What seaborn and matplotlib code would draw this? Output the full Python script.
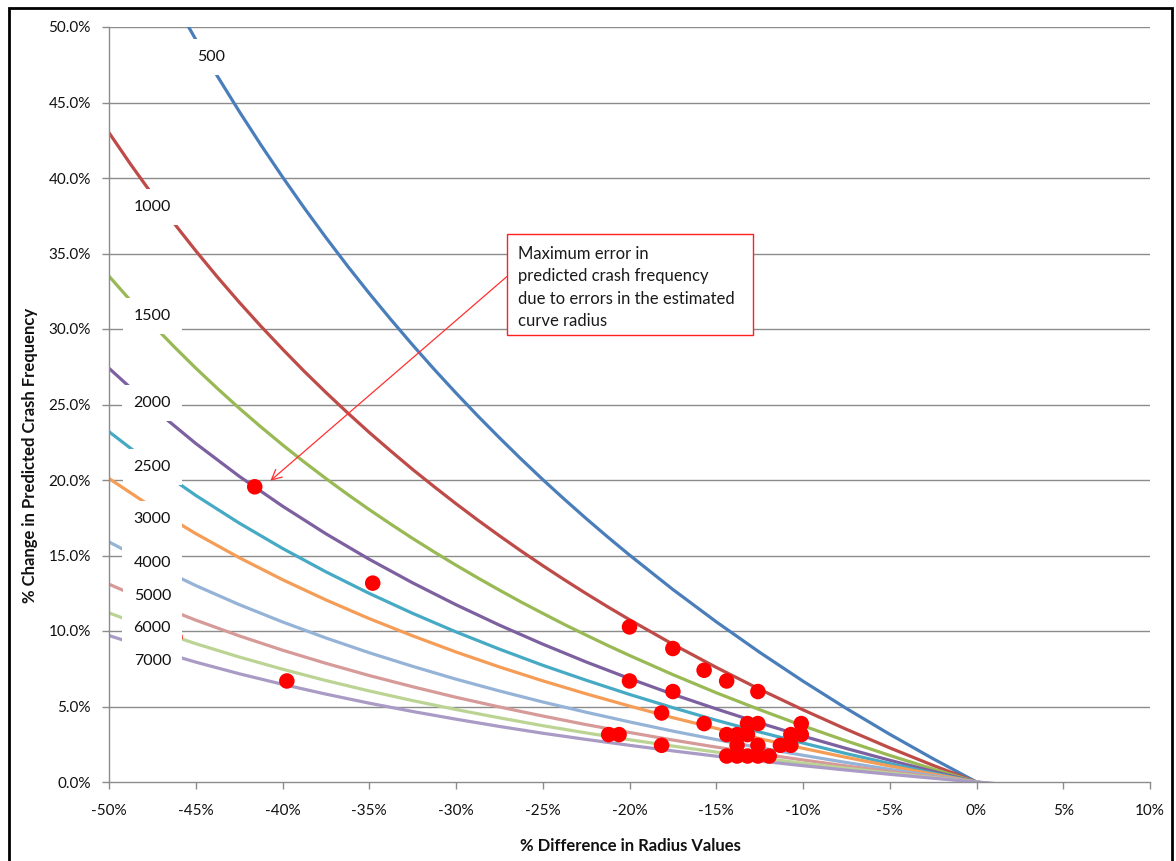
import numpy as np
import pandas as pd
import matplotlib
matplotlib.use("Agg")
import matplotlib.pyplot as plt
from matplotlib.patches import Rectangle
import seaborn as sns

# % difference in radius values (x positions of the curve readings)
x_pct = [-50, -47.5, -45, -42.5, -40, -37.5, -35, -32.5, -30, -27.5, -25,
         -22.5, -20, -17.5, -15, -12.5, -10, -7.5, -5, -2.5, 0, 2]
# denser readings for the three steepest curves
x_fine = [-50, -48.75, -47.5, -46.25, -45, -43.75, -42.5, -41.25, -40, -38.75,
          -37.5, -36.25, -35, -33.75, -32.5, -31.25, -30, -28.75, -27.5,
          -26.25, -25, -23.75, -22.5, -21.25,
          -20, -17.5, -15, -12.5, -10, -7.5, -5, -2.5, 0, 2]

# % change in predicted crash frequency for each curve radius
r500 = [60.10, 57.17, 54.38, 51.71, 49.17, 46.74, 44.42, 42.20, 40.07, 38.02,
        36.06, 34.17, 32.36, 30.62, 28.94, 27.32, 25.76, 24.25, 22.80,
        21.39, 20.03, 18.72, 17.45, 16.22,
        15.03, 12.75, 10.61, 8.59, 6.68, 4.87, 3.16, 1.54, 0.0, -1.18]
r1000 = [43.00, 40.90, 38.90, 37.00, 35.18, 33.44, 31.78, 30.19, 28.67, 27.20,
         25.80, 24.45, 23.15, 21.91, 20.70, 19.55, 18.43, 17.35, 16.31,
         15.30, 14.33, 13.39, 12.48, 11.60,
         10.75, 9.12, 7.59, 6.14, 4.78, 3.49, 2.26, 1.10, 0.0, -0.84]
r1500 = [33.50, 31.87, 30.31, 28.83, 27.41, 26.06, 24.76, 23.52, 22.33, 21.19,
         20.10, 19.05, 18.04, 17.07, 16.13, 15.23, 14.36, 13.52, 12.71,
         11.92, 11.17, 10.43, 9.73, 9.04,
         8.38, 7.11, 5.91, 4.79, 3.72, 2.72, 1.76, 0.86, 0.0, -0.66]
r2000 = [27.40, 24.79, 22.42, 20.25, 18.27, 16.44, 14.75, 13.19, 11.74, 10.39,
         9.13, 7.95, 6.85, 5.81, 4.84, 3.91, 3.04, 2.22, 1.44, 0.70, 0.0, -0.54]
r2500 = [23.20, 20.99, 18.98, 17.15, 15.47, 13.92, 12.49, 11.17, 9.94, 8.80,
         7.73, 6.74, 5.80, 4.92, 4.09, 3.31, 2.58, 1.88, 1.22, 0.59, 0.0, -0.45]
r3000 = [20.10, 18.19, 16.45, 14.86, 13.40, 12.06, 10.82, 9.68, 8.61, 7.62,
         6.70, 5.84, 5.03, 4.26, 3.55, 2.87, 2.23, 1.63, 1.06, 0.52, 0.0, -0.39]
r4000 = [15.90, 14.39, 13.01, 11.75, 10.60, 9.54, 8.56, 7.66, 6.81, 6.03,
         5.30, 4.62, 3.98, 3.37, 2.81, 2.27, 1.77, 1.29, 0.84, 0.41, 0.0, -0.31]
r5000 = [13.10, 11.85, 10.72, 9.68, 8.73, 7.86, 7.05, 6.31, 5.61, 4.97,
         4.37, 3.80, 3.28, 2.78, 2.31, 1.87, 1.46, 1.06, 0.69, 0.34, 0.0, -0.26]
r6000 = [11.20, 10.13, 9.16, 8.28, 7.47, 6.72, 6.03, 5.39, 4.80, 4.25,
         3.73, 3.25, 2.80, 2.38, 1.98, 1.60, 1.24, 0.91, 0.59, 0.29, 0.0, -0.22]
r7000 = [9.70, 8.78, 7.94, 7.17, 6.47, 5.82, 5.22, 4.67, 4.16, 3.68,
         3.23, 2.82, 2.43, 2.06, 1.71, 1.39, 1.08, 0.79, 0.51, 0.25, 0.0, -0.19]

radii = ["500", "1000", "1500", "2000", "2500", "3000", "4000", "5000", "6000", "7000"]
curves = [r500, r1000, r1500, r2000, r2500, r3000, r4000, r5000, r6000, r7000]
curve_x = [x_fine, x_fine, x_fine] + [x_pct] * 7

# curve label anchor positions (x %, y %)
label_x = [-44.1, -47.5, -47.5, -47.5, -47.5, -47.5, -47.5, -47.5, -47.5, -47.5]
label_y = [48.0, 38.1, 30.85, 25.1, 20.85, 17.4, 14.5, 12.3, 10.2, 8.0]

# observed sites (x %, y %)
site_x = [-41.6, -34.8, -39.75, -46.2, -20.0, -17.5, -15.7, -14.4, -12.6,
          -20.0, -17.5, -18.15, -15.7, -21.2, -20.6, -18.15, -14.4, -13.8,
          -13.2, -12.6, -13.2, -13.8, -12.6, -14.4, -13.8, -13.2, -12.6,
          -11.95, -11.3, -10.7, -10.7, -10.1, -10.1]
site_y = [19.55, 13.17, 6.69, 9.6, 10.27, 8.84, 7.40, 6.69, 5.99,
          6.69, 5.99, 4.57, 3.87, 3.14, 3.14, 2.43, 3.14, 3.14,
          3.87, 3.87, 3.14, 2.43, 2.43, 1.72, 1.72, 1.72, 1.72,
          1.72, 2.43, 2.43, 3.14, 3.14, 3.87]

x_ticks = [-50, -45, -40, -35, -30, -25, -20, -15, -10, -5, 0, 5, 10]
y_ticks = [0, 5, 10, 15, 20, 25, 30, 35, 40, 45, 50]

colors = ["#4A7EBB", "#BE4B48", "#98B954", "#7D60A0", "#46AAC5",
          "#F59D56", "#95B3D7", "#D69A98", "#BBD494", "#A99BC6"]

df = pd.concat(
    [pd.DataFrame({"diff": xs, "change": ys, "radius": name})
     for name, xs, ys in zip(radii, curve_x, curves)],
    ignore_index=True,
)
sites = pd.DataFrame({"diff": site_x, "change": site_y})

sns.set_style("white")
plt.rcParams["font.family"] = ["Lato", "DejaVu Sans"]

fig = plt.figure(figsize=(11.76, 8.61), dpi=100)
W, H = 1176, 861
ax = fig.add_axes([109 / W, 1 - 782 / H, (1150 - 109) / W, (782 - 27) / H])

grid_c = "#8C8C8C"
for yv in y_ticks[1:]:
    ax.axhline(yv, color=grid_c, lw=1.0, zorder=0.5)

sns.lineplot(data=df, x="diff", y="change", hue="radius", hue_order=radii,
             palette=colors, sort=False, lw=2.3, legend=False, ax=ax, zorder=2)
for ln in ax.get_lines():
    ln.set_solid_joinstyle("round")

sns.scatterplot(data=sites, x="diff", y="change", color="#FF0000", s=125,
                edgecolor="none", ax=ax, zorder=3)

for name, lx, ly in zip(radii, label_x, label_y):
    ax.text(lx, ly, name, ha="center", va="center", fontsize=11.5, color="#111111",
            zorder=5,
            bbox=dict(boxstyle="square,pad=0.7", facecolor="white", edgecolor="none"))

# callout box with arrow
ax.add_patch(Rectangle((-27.05, 29.6), 14.15, 6.7, facecolor="white",
                       edgecolor="#FF2020", lw=1.0, zorder=6))
ax.text(-26.45, 35.5,
        "Maximum error in\npredicted crash frequency\ndue to errors in the estimated\ncurve radius",
        ha="left", va="top", fontsize=12, color="#1A1A1A", linespacing=1.5, zorder=7)
ax.annotate("", xy=(-40.7, 19.95), xytext=(-27.07, 33.47),
            arrowprops=dict(arrowstyle="->", color="#FF3030", lw=0.9,
                            shrinkA=0, shrinkB=0, mutation_scale=18), zorder=6)

ax.set_xlim(-50, 10)
ax.set_ylim(0, 50)
ax.set_xticks(x_ticks)
ax.set_xticklabels([f"{v}%" for v in x_ticks])
ax.set_yticks(y_ticks)
ax.set_yticklabels([f"{v:.1f}%" for v in y_ticks])
ax.tick_params(axis="both", direction="out", length=5, width=1, color=grid_c,
               labelsize=11, labelcolor="#111111")
ax.tick_params(axis="x", bottom=True, pad=11)
ax.tick_params(axis="y", left=True, pad=8)

for side in ["top", "right"]:
    ax.spines[side].set_visible(False)
for side in ["left", "bottom"]:
    ax.spines[side].set_color(grid_c)
    ax.spines[side].set_linewidth(1.0)

ax.set_xlabel("")
ax.set_ylabel("")
fig.text(630 / W, 1 - 846 / H, "% Difference in Radius Values", ha="center",
         va="center", fontsize=12, fontweight="bold", color="#111111")
fig.text(30 / W, 1 - 455 / H, "% Change in Predicted Crash Frequency", ha="center",
         va="center", rotation=90, fontsize=12, fontweight="bold", color="#111111")

# outer chart frame
fig.patches.append(Rectangle((8.5 / W, -0.05), (1172 - 8.5) / W, 1.05 - 8.5 / H,
                             transform=fig.transFigure, fill=False,
                             edgecolor="black", lw=2.0))

fig.savefig("out.png", dpi=100, facecolor="white")
